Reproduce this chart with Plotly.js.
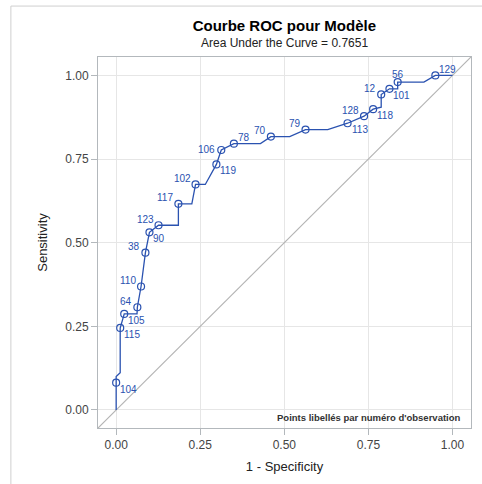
<!DOCTYPE html>
<html>
<head>
<meta charset="utf-8">
<script src="https://cdn.plot.ly/plotly-3.0.1.min.js"></script>
<style>
html,body{margin:0;padding:0;background:#fff;}
#chart{width:482px;height:484px;}
</style>
</head>
<body>
<div id="chart"></div>
<script>
// ROC curve vertices (1 - specificity, sensitivity)
const curveX = [0, 0, 0, 0.012, 0.012, 0.024, 0.062, 0.063, 0.074, 0.087, 0.099, 0.126, 0.185, 0.185, 0.225, 0.236, 0.265, 0.298, 0.3125, 0.35, 0.429, 0.46, 0.516, 0.563, 0.629, 0.688, 0.737, 0.764, 0.788, 0.788, 0.8125, 0.837, 0.837, 0.915, 0.949, 1.0];
const curveY = [0, 0.0816, 0.0995, 0.111, 0.245, 0.287, 0.287, 0.307, 0.369, 0.47, 0.531, 0.552, 0.552, 0.616, 0.616, 0.674, 0.674, 0.734, 0.777, 0.796, 0.796, 0.817, 0.817, 0.838, 0.838, 0.857, 0.878, 0.899, 0.905, 0.943, 0.96, 0.96, 0.98, 0.98, 1.0, 1.0];

// Labelled points (observation numbers)
const pointX = [0, 0.012, 0.024, 0.063, 0.074, 0.087, 0.099, 0.126, 0.185, 0.236, 0.298, 0.3125, 0.35, 0.46, 0.563, 0.688, 0.737, 0.764, 0.788, 0.8125, 0.837, 0.949];
const pointY = [0.0816, 0.245, 0.287, 0.307, 0.369, 0.47, 0.531, 0.552, 0.616, 0.674, 0.734, 0.777, 0.796, 0.817, 0.838, 0.857, 0.878, 0.899, 0.943, 0.96, 0.98, 1.0];
const pointLabels = ["104", "115", "105", "64", "110", "38", "90", "123", "117", "102", "119", "106", "78", "70", "79", "113", "128", "118", "12", "101", "56", "129"];
const labelPos = ["br", "br", "br", "tl", "tl", "tl", "br", "tl", "tl", "tl", "br", "ml", "tr", "tl", "tl", "br", "tl", "br", "tl", "br", "tc", "tr"];

// Chance diagonal
const diagX = [-0.1, 1.1];
const diagY = [-0.1, 1.1];

const tickVals = [0, 0.25, 0.5, 0.75, 1.0];
const tickText = ["0.00", "0.25", "0.50", "0.75", "1.00"];

const blue = '#2a52b0';
const font = 'Liberation Sans, Arial, sans-serif';

// label placement styles (relative to the marker)
const placeStyle = {
  br: {xanchor: 'left',   yanchor: 'top',    xshift: 2,  yshift: 1},
  tl: {xanchor: 'right',  yanchor: 'bottom', xshift: -3, yshift: -1.5},
  ml: {xanchor: 'right',  yanchor: 'middle', xshift: -4, yshift: 0.5},
  tr: {xanchor: 'left',   yanchor: 'bottom', xshift: 2,  yshift: -1.5},
  tc: {xanchor: 'center', yanchor: 'bottom', xshift: 0,  yshift: 0.5}
};

const traces = [
  {x: diagX, y: diagY, mode: 'lines', line: {color: '#b4b4b4', width: 1.2}, hoverinfo: 'skip', showlegend: false},
  {x: curveX, y: curveY, mode: 'lines', line: {color: blue, width: 1.3}, showlegend: false},
  {x: pointX, y: pointY, mode: 'markers',
   marker: {symbol: 'circle-open', size: 7, color: blue, line: {width: 1.2, color: blue}},
   cliponaxis: false, showlegend: false}
];

const pointAnnotations = pointLabels.map((lab, i) => Object.assign({
  xref: 'x', yref: 'y', x: pointX[i], y: pointY[i], text: lab, showarrow: false,
  font: {family: font, size: 10, color: blue}
}, placeStyle[labelPos[i]]));

const axisCommon = {
  range: [-0.054, 1.055],
  tickvals: tickVals, ticktext: tickText,
  showgrid: true, gridcolor: '#e6e6e6', gridwidth: 1,
  zeroline: false,
  showline: true, linecolor: '#b3b8bc', linewidth: 1, mirror: true,
  ticks: 'outside', ticklen: 6, tickcolor: '#b3b8bc',
  tickfont: {family: font, size: 12, color: '#444'},
  fixedrange: true
};

const layout = {
  width: 482, height: 484,
  margin: {l: 98, r: 11, t: 57, b: 55.5},
  paper_bgcolor: '#fff', plot_bgcolor: '#fff',
  font: {family: font},
  title: {text: '<b>Courbe ROC pour Modèle</b>', font: {family: font, size: 15, color: '#000'},
          x: 0.59, xanchor: 'center', y: 1 - 26/484, yanchor: 'middle'},
  xaxis: Object.assign({}, axisCommon, {
    title: {text: '1 - Specificity', font: {family: font, size: 13, color: '#222'}, standoff: 10}
  }),
  yaxis: Object.assign({}, axisCommon, {
    title: {text: 'Sensitivity', font: {family: font, size: 13, color: '#222'}, standoff: 14}
  }),
  annotations: [
    {xref: 'paper', yref: 'paper', x: 0.5, y: 1.0 + 14/371.5, xanchor: 'center', yanchor: 'middle',
     text: 'Area Under the Curve = 0.7651', showarrow: false, font: {family: font, size: 12, color: '#222'}},
    {xref: 'paper', yref: 'paper', x: (463 - 98) / 372.5, y: (428.5 - 418) / 371.5, xanchor: 'right', yanchor: 'middle',
     text: "<b>Points libellés par numéro d'observation</b>", showarrow: false,
     font: {family: font, size: 9.5, color: '#333'}}
  ].concat(pointAnnotations),
  shapes: [
    {type: 'line', xref: 'paper', yref: 'paper', x0: (11 - 98) / 372.5, x1: (482 - 98) / 372.5,
     y0: (428.5 - 6) / 371.5, y1: (428.5 - 6) / 371.5, line: {color: '#cfcfcf', width: 1}},
    {type: 'line', xref: 'paper', yref: 'paper', x0: (11 - 98) / 372.5, x1: (11 - 98) / 372.5,
     y0: (428.5 - 6) / 371.5, y1: (428.5 - 490) / 371.5, line: {color: '#cfcfcf', width: 1}}
  ],
  showlegend: false
};

Plotly.newPlot('chart', traces, layout, {displayModeBar: false, staticPlot: true});
</script>
</body>
</html>
